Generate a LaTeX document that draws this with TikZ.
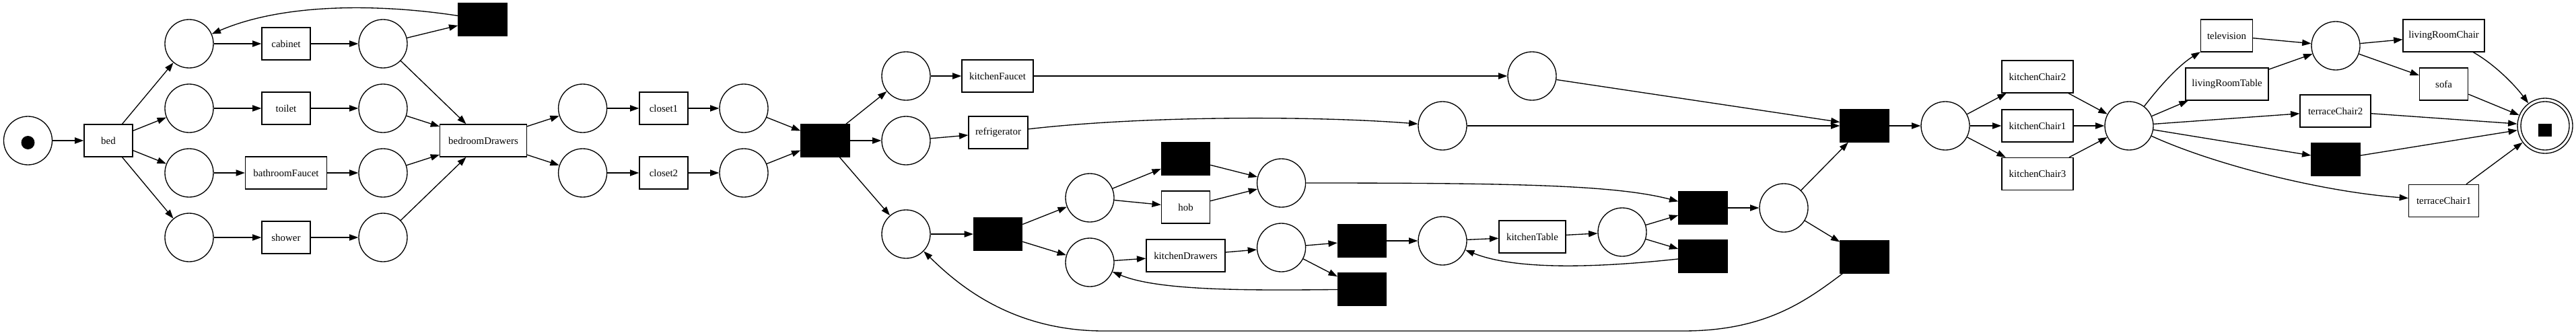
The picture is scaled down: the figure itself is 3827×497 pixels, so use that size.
\documentclass[tikz,border=0pt]{standalone}
\usepackage{fontspec}
\setmainfont{Liberation Serif}
\usetikzlibrary{arrows.meta}
\begin{document}
\begin{tikzpicture}[x=0.75pt,y=0.75pt,
  every node/.style={font=\fontsize{11.2}{13}\selectfont},
  place/.style={circle,draw,line width=1pt,minimum size=54pt,inner sep=0pt},
  trans/.style={rectangle,draw,line width=1pt,minimum height=36pt,minimum width=54pt,inner sep=0pt},
  silent/.style={trans,fill=black},
  arr/.style={-{Triangle[length=10pt,width=7pt]},line width=1pt}]
\useasboundingbox (0,0) rectangle (3827,-497);
% places
\node[place] (p0) at (41.5,-209) {};
\node[circle,fill=black,inner sep=0pt,minimum size=15pt] (tok) at (41.5,-212) {};
\node[place] (pa1) at (281,-65) {};
\node[place] (pa2) at (281,-161) {};
\node[place] (pa3) at (281,-257) {};
\node[place] (pa4) at (281,-353) {};
\node[place] (pb1) at (569,-65) {};
\node[place] (pb2) at (569,-161) {};
\node[place] (pb3) at (569,-257) {};
\node[place] (pb4) at (569,-353) {};
\node[place] (pc1) at (865.6,-161) {};
\node[place] (pc2) at (865.6,-257) {};
\node[place] (pd1) at (1105,-161) {};
\node[place] (pd2) at (1105,-257) {};
\node[place] (pe1) at (1346,-113) {};
\node[place] (pe2) at (1346,-209) {};
\node[place] (pe3) at (1346,-348) {};
\node[place] (pf1) at (1619,-294) {};
\node[place] (pf2) at (1619,-390) {};
\node[place] (pg1) at (1903.6,-272) {};
\node[place] (pg2) at (1903.6,-368) {};
\node[place] (ph1) at (2276,-113) {};
\node[place] (ph2) at (2143,-187) {};
\node[place] (pi) at (2143,-358) {};
\node[place] (pj) at (2410,-345) {};
\node[place] (pk) at (2650,-309) {};
\node[place] (pl) at (2890,-187) {};
\node[place] (pm) at (3163,-187) {};
\node[place] (pn) at (3470,-68) {};
\node[place,minimum size=61.5pt] (end) at (3781,-187) {};
\node[place] (endin) at (3781,-187) {};
\node[rectangle,fill=black,inner sep=0pt,minimum size=14.5pt] (endtok) at (3781,-193.5) {};
% transitions
\node[trans] (bed) at (161,-209) {bed};
\node[trans] (cabinet) at (425,-65) {cabinet};
\node[trans] (toilet) at (425,-161) {toilet};
\node[trans,minimum width=90.75pt] (bathroomFaucet) at (425,-257) {bathroomFaucet};
\node[trans] (shower) at (425,-353) {shower};
\node[silent] (t1) at (717,-29) {};
\node[trans,minimum width=96.4pt] (bedroomDrawers) at (718,-209) {bedroomDrawers};
\node[trans] (closet1) at (986,-161) {closet1};
\node[trans] (closet2) at (986,-257) {closet2};
\node[silent] (t2) at (1226,-209) {};
\node[trans,minimum width=79.5pt] (kitchenFaucet) at (1482,-113) {kitchenFaucet};
\node[trans,minimum width=66pt] (refrigerator) at (1483,-197) {refrigerator};
\node[silent] (t3) at (1482.6,-348) {};
\node[silent] (t4) at (1761.5,-236) {};
\node[trans] (hob) at (1761.5,-308) {hob};
\node[trans,minimum width=87.75pt] (kitchenDrawers) at (1761.5,-380) {kitchenDrawers};
\node[silent] (t5) at (2023.5,-358) {};
\node[silent] (t6) at (2023.5,-430) {};
\node[trans,minimum width=74.25pt] (kitchenTable) at (2276.5,-352) {kitchenTable};
\node[silent] (t7) at (2530,-309) {};
\node[silent] (t8) at (2530,-381) {};
\node[silent] (t9) at (2770,-187) {};
\node[silent] (t10) at (2770,-382) {};
\node[trans,minimum width=79.5pt] (kc2) at (3027,-114) {kitchenChair2};
\node[trans,minimum width=79.5pt] (kc1) at (3027,-187) {kitchenChair1};
\node[trans,minimum width=79.5pt] (kc3) at (3027,-258.5) {kitchenChair3};
\node[trans,minimum width=57.75pt] (television) at (3308,-53) {television};
\node[trans,minimum width=92.25pt] (livingRoomTable) at (3308.6,-125) {livingRoomTable};
\node[trans,minimum width=90.75pt] (livingRoomChair) at (3630.6,-53) {livingRoomChair};
\node[trans] (sofa) at (3630.6,-125) {sofa};
\node[trans,minimum width=78.75pt] (terraceChair2) at (3469.6,-165) {terraceChair2};
\node[silent] (t11) at (3470,-237) {};
\node[trans,minimum width=78pt] (terraceChair1) at (3630.6,-298.5) {terraceChair1};
% arcs
\draw[arr] (p0) -- (bed);
\foreach \p in {pa1,pa2,pa3,pa4} \draw[arr] (bed) -- (\p);
\draw[arr] (pa1) -- (cabinet);
\draw[arr] (cabinet) -- (pb1);
\draw[arr] (pa2) -- (toilet);
\draw[arr] (toilet) -- (pb2);
\draw[arr] (pa3) -- (bathroomFaucet);
\draw[arr] (bathroomFaucet) -- (pb3);
\draw[arr] (pa4) -- (shower);
\draw[arr] (shower) -- (pb4);
\draw[arr] (pb1) -- (t1);
\draw[arr] (t1) .. controls (560,-5) and (420,-5) .. (pa1);
\foreach \p in {pb1,pb2,pb3,pb4} \draw[arr] (\p) -- (bedroomDrawers);
\draw[arr] (bedroomDrawers) -- (pc1);
\draw[arr] (bedroomDrawers) -- (pc2);
\draw[arr] (pc1) -- (closet1);
\draw[arr] (closet1) -- (pd1);
\draw[arr] (pc2) -- (closet2);
\draw[arr] (closet2) -- (pd2);
\draw[arr] (pd1) -- (t2);
\draw[arr] (pd2) -- (t2);
\draw[arr] (t2) -- (pe1);
\draw[arr] (t2) -- (pe2);
\draw[arr] (t2) -- (pe3);
\draw[arr] (pe1) -- (kitchenFaucet);
\draw[arr] (kitchenFaucet) -- (ph1);
\draw[arr] (pe2) -- (refrigerator);
\draw[arr] (refrigerator) .. controls (1700,-172) and (1950,-172) .. (ph2);
\draw[arr] (pe3) -- (t3);
\draw[arr] (t3) -- (pf1);
\draw[arr] (t3) -- (pf2);
\draw[arr] (pf1) -- (t4);
\draw[arr] (pf1) -- (hob);
\draw[arr] (t4) -- (pg1);
\draw[arr] (hob) -- (pg1);
\draw[arr] (pf2) -- (kitchenDrawers);
\draw[arr] (kitchenDrawers) -- (pg2);
\draw[arr] (pg2) -- (t5);
\draw[arr] (pg2) -- (t6);
\draw[arr] (t6) .. controls (1850,-432) and (1720,-432) .. (pf2);
\draw[arr] (t5) -- (pi);
\draw[arr] (pi) -- (kitchenTable);
\draw[arr] (kitchenTable) -- (pj);
\draw[arr] (pj) -- (t7);
\draw[arr] (pj) -- (t8);
\draw[arr] (t8) .. controls (2400,-395) and (2260,-405) .. (pi);
\draw[arr] (pg1) .. controls (2250,-272) and (2400,-275) .. (t7);
\draw[arr] (t7) -- (pk);
\draw[arr] (pk) -- (t9);
\draw[arr] (pk) -- (t10);
\draw[arr] (t10) .. controls (2680,-450) and (2620,-492) .. (2500,-492) -- (1640,-492) .. controls (1500,-492) and (1420,-420) .. (pe3);
\draw[arr] (ph1) -- (t9);
\draw[arr] (ph2) -- (t9);
\draw[arr] (t9) -- (pl);
\foreach \k in {kc1,kc2,kc3} {\draw[arr] (pl) -- (\k); \draw[arr] (\k) -- (pm);}
\draw[arr] (pm) .. controls (3215,-120) and (3240,-95) .. (television);
\draw[arr] (pm) -- (livingRoomTable);
\draw[arr] (pm) -- (terraceChair2);
\draw[arr] (pm) -- (t11);
\draw[arr] (pm) .. controls (3290,-245) and (3450,-285) .. (terraceChair1);
\draw[arr] (television) -- (pn);
\draw[arr] (livingRoomTable) -- (pn);
\draw[arr] (pn) -- (livingRoomChair);
\draw[arr] (pn) -- (sofa);
\draw[arr] (livingRoomChair) .. controls (3705,-95) and (3735,-125) .. (end);
\draw[arr] (sofa) -- (end);
\draw[arr] (terraceChair2) -- (end);
\draw[arr] (t11) -- (end);
\draw[arr] (terraceChair1) -- (end);
\end{tikzpicture}
\end{document}
